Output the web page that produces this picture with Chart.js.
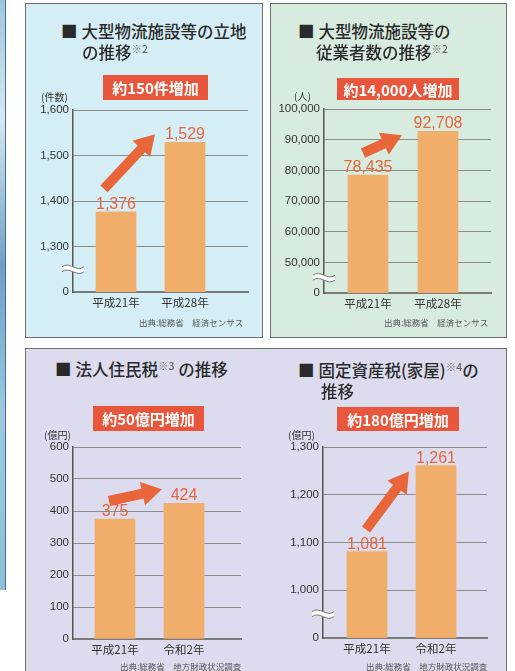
<!DOCTYPE html>
<html lang="ja">
<head>
<meta charset="utf-8">
<script src="https://cdn.jsdelivr.net/npm/chart.js@4.4.1/dist/chart.umd.min.js"></script>
<style>
  body { margin: 0; width: 515px; height: 671px; position: relative; overflow: hidden; background: #fff;
         font-family: 'Noto Sans CJK JP', sans-serif; color: #333; }
  .strip { position: absolute; left: 0; top: 0; width: 5px; height: 590px; border-right: 1px solid #3f6f9f;
           background: linear-gradient(to bottom, #9cc6dc 0%, #d8e8ef 20%, #6f9fc6 45%, #9dc8df 70%, #8fbfd8 100%); }
  .panel { position: absolute; border: 1.5px solid #6e6e6e; box-sizing: border-box; }
  .title { position: absolute; font-size: 16.5px; font-weight: 500; color: #2a2a2a; white-space: nowrap; line-height: 17px; }
  .title .sq { margin-right: 4px; }
  .note { font-size: 10.5px; color: #666; position: relative; top: -6px; }
  .badge { position: absolute; background: #e8573b; color: #fff; font-weight: bold; font-size: 15px;
           display: flex; align-items: center; justify-content: center; }
  .unit { position: absolute; font-size: 10px; color: #333; white-space: nowrap; line-height: 10px; }
  .src { position: absolute; font-size: 8.5px; color: #555; white-space: nowrap; line-height: 9px; }
  canvas { position: absolute; }
</style>
</head>
<body>
<div class="strip"></div>
<div class="panel" style="left:25px;top:3px;width:238px;height:335px;background:#d5eef5"></div>
<div class="panel" style="left:270px;top:3px;width:237px;height:335px;background:#d8ebdf"></div>
<div class="panel" style="left:25px;top:348px;width:482px;height:340px;background:#dcdcee"></div>

<canvas id="flChart" width="232" height="225" style="left:26px;top:98px"></canvas>
<canvas id="empChart" width="232" height="225" style="left:271px;top:98px"></canvas>
<canvas id="corpChart" width="232" height="225" style="left:26px;top:436px"></canvas>
<canvas id="propChart" width="232" height="225" style="left:271px;top:436px"></canvas>

<div class="title" style="left:61px;top:23px"><span class="sq">■</span>大型物流施設等の立地</div>
<div class="title" style="left:82px;top:44px">の推移<span class="note">※2</span></div>
<div class="badge" style="left:103px;top:75px;width:105px;height:25px">約150件増加</div>
<div class="unit" style="left:41px;top:92px">(件数)</div>
<div class="src" style="left:139px;top:318px">出典:総務省　経済センサス</div>

<div class="title" style="left:298px;top:23px"><span class="sq">■</span>大型物流施設等の</div>
<div class="title" style="left:316px;top:44px">従業者数の推移<span class="note">※2</span></div>
<div class="badge" style="left:337px;top:78px;width:122px;height:22px">約14,000人増加</div>
<div class="unit" style="left:294px;top:91px">(人)</div>
<div class="src" style="left:384px;top:318px">出典:総務省　経済センサス</div>

<div class="title" style="left:55px;top:361px"><span class="sq">■</span>法人住民税<span class="note">※3</span> の推移</div>
<div class="badge" style="left:93px;top:406px;width:111px;height:25px">約50億円増加</div>
<div class="unit" style="left:44px;top:430px">(億円)</div>
<div class="src" style="left:120px;top:662px">出典:総務省　地方財政状況調査</div>

<div class="title" style="left:298px;top:362px"><span class="sq">■</span>固定資産税(家屋)<span class="note">※4</span>の</div>
<div class="title" style="left:321px;top:383px">推移</div>
<div class="badge" style="left:337px;top:407px;width:122px;height:24px">約180億円増加</div>
<div class="unit" style="left:288px;top:430px">(億円)</div>
<div class="src" style="left:366px;top:662px">出典:総務省　地方財政状況調査</div>

<script>
// 大型物流施設等の立地 (件数)
const flCategories = ['平成21年', '平成28年'];
const flValues = [1376, 1529];
const flTicks = [1200, 1300, 1400, 1500, 1600];
const flTickLabels = ['0', '1,300', '1,400', '1,500', '1,600'];

// 大型物流施設等の従業者数 (人)
const empCategories = ['平成21年', '平成28年'];
const empValues = [78435, 92708];
const empTicks = [40000, 50000, 60000, 70000, 80000, 90000, 100000];
const empTickLabels = ['0', '50,000', '60,000', '70,000', '80,000', '90,000', '100,000'];

// 法人住民税 (億円)
const corpCategories = ['平成21年', '令和2年'];
const corpValues = [375, 424];
const corpTicks = [0, 100, 200, 300, 400, 500, 600];
const corpTickLabels = ['0', '100', '200', '300', '400', '500', '600'];

// 固定資産税(家屋) (億円)
const propCategories = ['平成21年', '令和2年'];
const propValues = [1081, 1261];
const propTicks = [900, 1000, 1100, 1200, 1300];
const propTickLabels = ['0', '1,000', '1,100', '1,200', '1,300'];

const ORANGE = '#e9653a';
const BAR_COLOR = '#f1ae6b';
const NUM_FONT = "'Liberation Sans', 'Noto Sans CJK JP', sans-serif";
const JP_FONT = "'Noto Sans CJK JP', sans-serif";

/**
 * Thick arrow from (x1,y1) to (x2,y2).
 */
const drawArrow = (ctx, x1, y1, x2, y2) => {
    const ang = Math.atan2(y2 - y1, x2 - x1);
    const len = Math.hypot(x2 - x1, y2 - y1);
    const shaft = 5, headLen = 20, headHalf = 12;
    ctx.save();
    ctx.translate(x1, y1);
    ctx.rotate(ang);
    ctx.beginPath();
    ctx.moveTo(0, -shaft);
    ctx.lineTo(len - headLen, -shaft);
    ctx.lineTo(len - headLen, -headHalf);
    ctx.lineTo(len, 0);
    ctx.lineTo(len - headLen, headHalf);
    ctx.lineTo(len - headLen, shaft);
    ctx.lineTo(0, shaft);
    ctx.closePath();
    ctx.fillStyle = ORANGE;
    ctx.fill();
    ctx.restore();
};

/**
 * Axis break mark (white double wave) over the y axis.
 */
const drawBreak = (ctx, x, y) => {
    const x0 = x - 11, w = 22, g = 2.5, a = 3;
    const wave = (off) => {
        ctx.moveTo(x0, y + off);
        ctx.bezierCurveTo(x0 + w / 3, y + off - 2 * a, x0 + 2 * w / 3, y + off + 2 * a, x0 + w, y + off);
    };
    ctx.save();
    ctx.beginPath();
    wave(-g);
    ctx.lineTo(x0 + w, y + g);
    ctx.bezierCurveTo(x0 + 2 * w / 3, y + g + 2 * a, x0 + w / 3, y + g - 2 * a, x0, y + g);
    ctx.closePath();
    ctx.fillStyle = '#fff';
    ctx.fill();
    ctx.strokeStyle = '#777';
    ctx.lineWidth = 1;
    ctx.beginPath(); wave(-g); ctx.stroke();
    ctx.beginPath(); wave(g); ctx.stroke();
    ctx.restore();
};

const makeChart = (id, categories, values, ticks, tickLabels, f) => {
    const canvas = document.getElementById(id);
    const left = parseFloat(canvas.style.left);
    const top = parseFloat(canvas.style.top);
    const unit = f.center2 - f.center1;
    const broken = ticks[0] > 0;

    const decor = {
        id: 'decor',
        afterDatasetsDraw(chart) {
            const ctx = chart.ctx;
            const bars = chart.getDatasetMeta(0).data;

            // values above bars
            ctx.save();
            ctx.fillStyle = ORANGE;
            ctx.font = `16px ${NUM_FONT}`;
            ctx.textAlign = 'center';
            ctx.textBaseline = 'alphabetic';
            bars.forEach((bar, i) => {
                ctx.fillText(values[i].toLocaleString('en-US'), bar.x, bar.y - 3);
            });
            ctx.restore();

            // increase arrow
            const [b1, b2] = bars;
            drawArrow(ctx, b1.x + f.tail[0], b1.y + f.tail[1], b2.x + f.tip[0], b2.y + f.tip[1]);

            // break mark between 0 and the first real tick
            if (broken) {
                const ys = chart.scales.y;
                const yMid = (ys.getPixelForValue(ticks[0]) + ys.getPixelForValue(ticks[1])) / 2;
                drawBreak(ctx, chart.chartArea.left, yMid);
            }
        }
    };

    return new Chart(canvas, {
        type: 'bar',
        data: {
            datasets: [{
                data: values.map((v, i) => ({ x: i, y: v })),
                backgroundColor: BAR_COLOR,
                borderWidth: 0,
                barThickness: 40,
            }],
        },
        options: {
            responsive: false,
            animation: false,
            devicePixelRatio: 1,
            layout: { padding: { top: f.plotTop - top, right: left + canvas.width - f.right, left: 0, bottom: 0 } },
            plugins: { legend: { display: false }, tooltip: { enabled: false } },
            scales: {
                x: {
                    type: 'linear',
                    offset: false,
                    bounds: 'data',
                    min: -(f.center1 - f.axisX) / unit,
                    max: 1 + (f.right - f.center2) / unit,
                    afterBuildTicks: (s) => { s.ticks = categories.map((c, i) => ({ value: i })); },
                    ticks: {
                        callback: (v) => categories[v],
                        font: { family: JP_FONT, size: 11.5 },
                        color: '#333',
                        padding: 4,
                        autoSkip: false,
                        maxRotation: 0,
                    },
                    grid: { offset: false, drawOnChartArea: false, drawTicks: false },
                    border: { color: '#7a7a7a', width: 2 },
                    afterFit: (s) => { s.height = top + canvas.height - f.plotBottom; },
                },
                y: {
                    min: ticks[0],
                    max: ticks[ticks.length - 1],
                    afterBuildTicks: (s) => { s.ticks = ticks.map(v => ({ value: v })); },
                    ticks: {
                        callback: (v, i) => tickLabels[i],
                        font: { family: NUM_FONT, size: 11.5 },
                        color: '#333',
                        padding: 4,
                    },
                    grid: {
                        color: (ctx) => ctx.index === 0 ? 'rgba(0,0,0,0)' : '#8c8c8c',
                        lineWidth: 1,
                        drawTicks: false,
                    },
                    border: { color: '#555', width: 1.5 },
                    afterFit: (s) => { s.width = f.axisX - left; },
                },
            },
        },
        plugins: [decor],
    });
};

makeChart('flChart', flCategories, flValues, flTicks, flTickLabels,
    { axisX: 73, right: 248, plotTop: 110, plotBottom: 292, center1: 116, center2: 185, tail: [-12, -23], tip: [-30, -8] });
makeChart('empChart', empCategories, empValues, empTicks, empTickLabels,
    { axisX: 324, right: 491, plotTop: 109, plotBottom: 293, center1: 368, center2: 438, tail: [-5, -22], tip: [-36, 4] });
makeChart('corpChart', corpCategories, corpValues, corpTicks, corpTickLabels,
    { axisX: 73, right: 241, plotTop: 447, plotBottom: 639, center1: 115, center2: 184, tail: [-6, -18], tip: [-22, -14] });
makeChart('propChart', propCategories, propValues, propTicks, propTickLabels,
    { axisX: 323, right: 487, plotTop: 447, plotBottom: 638, center1: 367, center2: 436, tail: [-1, -22], tip: [-27, 6] });
</script>
</body>
</html>
